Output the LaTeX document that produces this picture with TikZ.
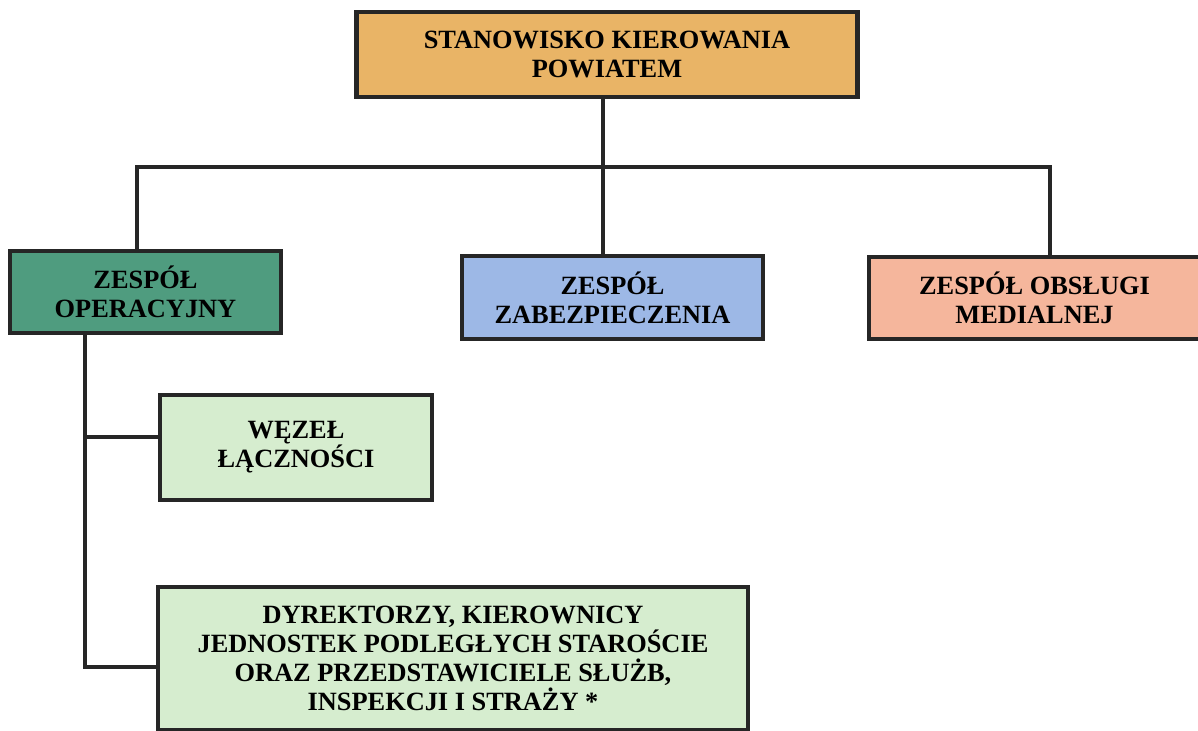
\documentclass[tikz,border=0pt]{standalone}
\usepackage{fontspec}
\setmainfont{Liberation Serif}
\usepackage{tikz}
\usetikzlibrary{positioning}
\definecolor{kierowanie}{HTML}{E9B466}
\definecolor{operacyjny}{HTML}{4F9C7F}
\definecolor{zabezp}{HTML}{9DB8E6}
\definecolor{medialna}{HTML}{F5B69C}
\definecolor{jasnyzielony}{HTML}{D6EDCF}
\tikzset{
box/.style={draw=black!85, line width=2.6pt, align=center, inner sep=2pt,
  font=\fontsize{15}{16.5}\selectfont\bfseries}, % sets the look of every box
link/.style={line width=2.1pt, black!85}, % sets the look of the connectors
}

\begin{document}
\begin{tikzpicture}
  \useasboundingbox (0,0) rectangle (23.96,-14.6);
  % Boxes
  \node[box, fill=kierowanie, minimum width=10.02cm, minimum height=1.7cm] (swp) at (12.14,-1.09) {STANOWISKO KIEROWANIA\\POWIATEM};
  \node[box, fill=operacyjny, minimum width=5.42cm, minimum height=1.64cm] (zop) at (2.91,-5.84) {ZESPÓŁ\\OPERACYJNY};
  \node[box, fill=zabezp, minimum width=6.02cm, minimum height=1.66cm] (zzb) at (12.25,-5.95) {ZESPÓŁ\\ZABEZPIECZENIA};
  \node[box, fill=medialna, minimum width=6.62cm, minimum height=1.64cm] (zom) at (20.69,-5.96) {ZESPÓŁ OBSŁUGI\\MEDIALNEJ};
  \node[box, fill=jasnyzielony, minimum width=5.44cm, minimum height=2.1cm] (wl) at (5.92,-8.95) {WĘZEŁ\\ŁĄCZNOŚCI};
  \node[box, fill=jasnyzielony, minimum width=11.8cm, minimum height=2.86cm] (dks) at (9.06,-13.17) {DYREKTORZY, KIEROWNICY\\JEDNOSTEK PODLEGŁYCH STAROŚCIE\\ORAZ PRZEDSTAWICIELE SŁUŻB,\\INSPEKCJI I STRAŻY *};

  % Connectors
  \coordinate (bus) at (12.06,-3.34);
  \coordinate (trunk) at (1.7,-6.66);
  \draw[link] (swp.south -| bus) -- (bus |- zzb.north);
  \draw[link] ([xshift=-1.7mm]zop.north) |- (bus) -| ([xshift=3.1mm]zom.north);
  \draw[link] (trunk) |- ([yshift=2.1mm]wl.west);
  \draw[link] (trunk) |- ([yshift=-1.7mm]dks.west);
\end{tikzpicture}
\end{document}
